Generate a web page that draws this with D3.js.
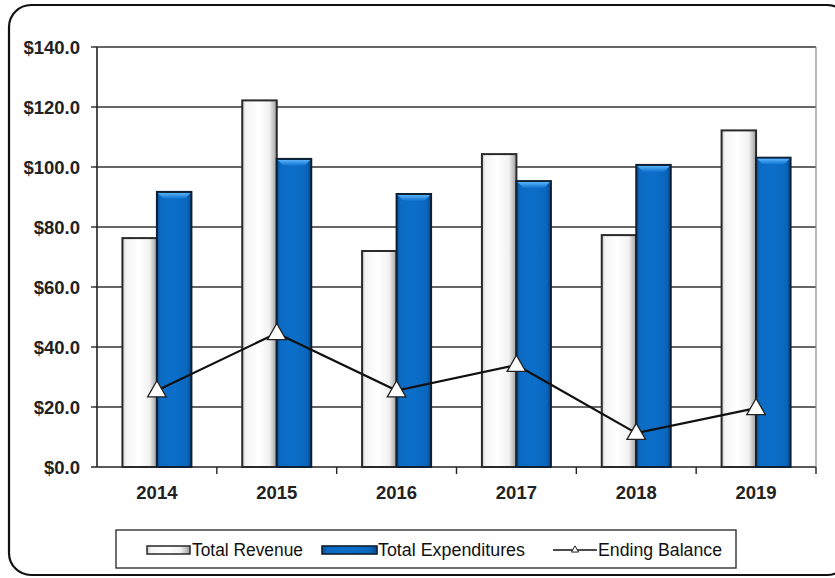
<!DOCTYPE html>
<html>
<head>
<meta charset="utf-8">
<script src="https://cdn.jsdelivr.net/npm/d3@7"></script>
<style>
  html, body { margin: 0; padding: 0; background: #fff; }
  svg { display: block; font-family: Arial, "Liberation Sans", sans-serif; }
</style>
</head>
<body>
<svg id="chart" width="835" height="578"></svg>
<script>
// Fiscal data (millions of dollars)
const years = ["2014", "2015", "2016", "2017", "2018", "2019"];
const totalRevenue = [76.3, 122.2, 72.0, 104.3, 77.3, 112.2];
const totalExpenditures = [91.7, 102.7, 91.0, 95.3, 100.7, 103.1];
const endingBalance = [25.5, 44.6, 25.5, 34.0, 11.3, 19.6];
const yTicks = [0, 20, 40, 60, 80, 100, 120, 140];
const legendLabels = ["Total Revenue", "Total Expenditures", "Ending Balance"];

const svg = d3.select("#chart");
const defs = svg.append("defs");

// Outer rounded frame
svg.append("rect")
  .attr("x", 9).attr("y", 5).attr("width", 840).attr("height", 570)
  .attr("rx", 22).attr("ry", 22)
  .attr("fill", "#fff").attr("stroke", "#111").attr("stroke-width", 2.2);

const margin = { left: 97, right: 816, top: 47, bottom: 467 };

const x = d3.scaleBand().domain(years).range([margin.left, margin.right]);
const y = d3.scaleLinear().domain([0, 140]).range([margin.bottom, margin.top]);

// Gradients for bar shading
const gRev = defs.append("linearGradient").attr("id", "gRev").attr("x1", 0).attr("x2", 1).attr("y1", 0).attr("y2", 0);
[[0, "#c8c8c8"], [0.1, "#f4f4f4"], [0.45, "#ffffff"], [0.78, "#f2f2f2"], [0.92, "#bdbdbd"], [1, "#9a9a9a"]]
  .forEach(([o, c]) => gRev.append("stop").attr("offset", o).attr("stop-color", c));

const gExp = defs.append("linearGradient").attr("id", "gExp").attr("x1", 0).attr("x2", 1).attr("y1", 0).attr("y2", 0);
[[0, "#0a4f96"], [0.1, "#0b6bc4"], [0.5, "#0b6fca"], [0.88, "#0a66bc"], [1, "#07468a"]]
  .forEach(([o, c]) => gExp.append("stop").attr("offset", o).attr("stop-color", c));

const gCap = defs.append("linearGradient").attr("id", "gCap").attr("x1", 0).attr("x2", 0).attr("y1", 0).attr("y2", 1);
[[0, "#5ab4ff"], [1, "#0b6fca"]]
  .forEach(([o, c]) => gCap.append("stop").attr("offset", o).attr("stop-color", c));

// Gridlines and y-axis
const grid = svg.append("g");
grid.selectAll("line").data(yTicks).join("line")
  .attr("x1", margin.left - 6).attr("x2", margin.right)
  .attr("y1", d => y(d)).attr("y2", d => y(d))
  .attr("stroke", d => d === 0 ? "#222" : "#333").attr("stroke-width", d => d === 0 ? 1.6 : 1.3);

svg.append("line")
  .attr("x1", margin.left).attr("x2", margin.left)
  .attr("y1", margin.top).attr("y2", margin.bottom)
  .attr("stroke", "#222").attr("stroke-width", 1.6);

svg.append("line")
  .attr("x1", margin.right).attr("x2", margin.right)
  .attr("y1", margin.top).attr("y2", margin.bottom)
  .attr("stroke", "#888").attr("stroke-width", 1.2);

svg.append("g").selectAll("text").data(yTicks).join("text")
  .attr("x", 80).attr("y", d => y(d)).attr("dy", "0.36em")
  .attr("text-anchor", "end")
  .attr("font-size", 18.5).attr("font-weight", "bold").attr("fill", "#222")
  .text(d => "$" + d3.format(".1f")(d));

// Category ticks between groups
const boundaries = years.slice(1).map(d => x(d)).concat([margin.right]);
svg.append("g").selectAll("line").data(boundaries).join("line")
  .attr("x1", d => d).attr("x2", d => d)
  .attr("y1", margin.bottom).attr("y2", margin.bottom + 7)
  .attr("stroke", "#222").attr("stroke-width", 1.4);

svg.append("g").selectAll("text").data(years).join("text")
  .attr("x", d => x(d) + x.bandwidth() / 2).attr("y", 499)
  .attr("text-anchor", "middle")
  .attr("font-size", 18.5).attr("font-weight", "bold").attr("fill", "#222")
  .text(d => d);

// Bars
const barW = 34.5;
const center = d => x(d) + x.bandwidth() / 2;

const revG = svg.append("g");
revG.selectAll("rect").data(years).join("rect")
  .attr("x", d => center(d) - barW).attr("width", barW)
  .attr("y", (d, i) => y(totalRevenue[i]))
  .attr("height", (d, i) => y(0) - y(totalRevenue[i]))
  .attr("fill", "url(#gRev)").attr("stroke", "#2a2a2a").attr("stroke-width", 2);

const expG = svg.append("g");
expG.selectAll("rect.body").data(years).join("rect")
  .attr("class", "body")
  .attr("x", d => center(d)).attr("width", barW)
  .attr("y", (d, i) => y(totalExpenditures[i]))
  .attr("height", (d, i) => y(0) - y(totalExpenditures[i]))
  .attr("fill", "url(#gExp)").attr("stroke", "#0d1f33").attr("stroke-width", 2);

// Bevelled top cap on expenditure bars
expG.selectAll("path.cap").data(years).join("path")
  .attr("class", "cap")
  .attr("d", (d, i) => {
    const x0 = center(d) + 1, x1 = center(d) + barW - 1, t = y(totalExpenditures[i]) + 1;
    return `M${x0},${t} L${x1},${t} L${x1 - 6},${t + 6} L${x0 + 6},${t + 6} Z`;
  })
  .attr("fill", "url(#gCap)");

// Ending balance line with triangle markers
const line = d3.line().x((d, i) => center(years[i])).y(d => y(d));
svg.append("path").datum(endingBalance)
  .attr("d", line).attr("fill", "none")
  .attr("stroke", "#111").attr("stroke-width", 2.2);

const tri = d3.symbol().type(d3.symbolTriangle).size(150);
svg.append("g").selectAll("path").data(endingBalance).join("path")
  .attr("transform", (d, i) => `translate(${center(years[i])},${y(d) + 1})`)
  .attr("d", tri())
  .attr("fill", "#fff").attr("stroke", "#222").attr("stroke-width", 1.3);

// Legend
const lg = svg.append("g");
lg.append("rect").attr("x", 116).attr("y", 530).attr("width", 620).attr("height", 38)
  .attr("fill", "#fff").attr("stroke", "#333").attr("stroke-width", 1.4);

const legY = 550;
lg.append("rect").attr("x", 147).attr("y", legY - 4).attr("width", 43).attr("height", 8)
  .attr("fill", "url(#gRev)").attr("stroke", "#333").attr("stroke-width", 1.6);
lg.append("rect").attr("x", 322).attr("y", legY - 4).attr("width", 55).attr("height", 8)
  .attr("fill", "url(#gExp)").attr("stroke", "#0d1f33").attr("stroke-width", 1.6);
lg.append("line").attr("x1", 553).attr("x2", 597).attr("y1", legY).attr("y2", legY)
  .attr("stroke", "#111").attr("stroke-width", 1.6);
lg.append("path").attr("transform", `translate(575,${legY})`)
  .attr("d", d3.symbol().type(d3.symbolTriangle).size(22)())
  .attr("fill", "#fff").attr("stroke", "#222").attr("stroke-width", 1);

const legX = [192, 378, 598];
lg.selectAll("text").data(legendLabels).join("text")
  .attr("x", (d, i) => legX[i]).attr("y", legY).attr("dy", "0.36em")
  .attr("font-size", 17.5).attr("fill", "#111")
  .attr("textLength", (d, i) => [111, 147, 124][i])
  .attr("lengthAdjust", "spacingAndGlyphs")
  .text(d => d);
</script>
</body>
</html>
